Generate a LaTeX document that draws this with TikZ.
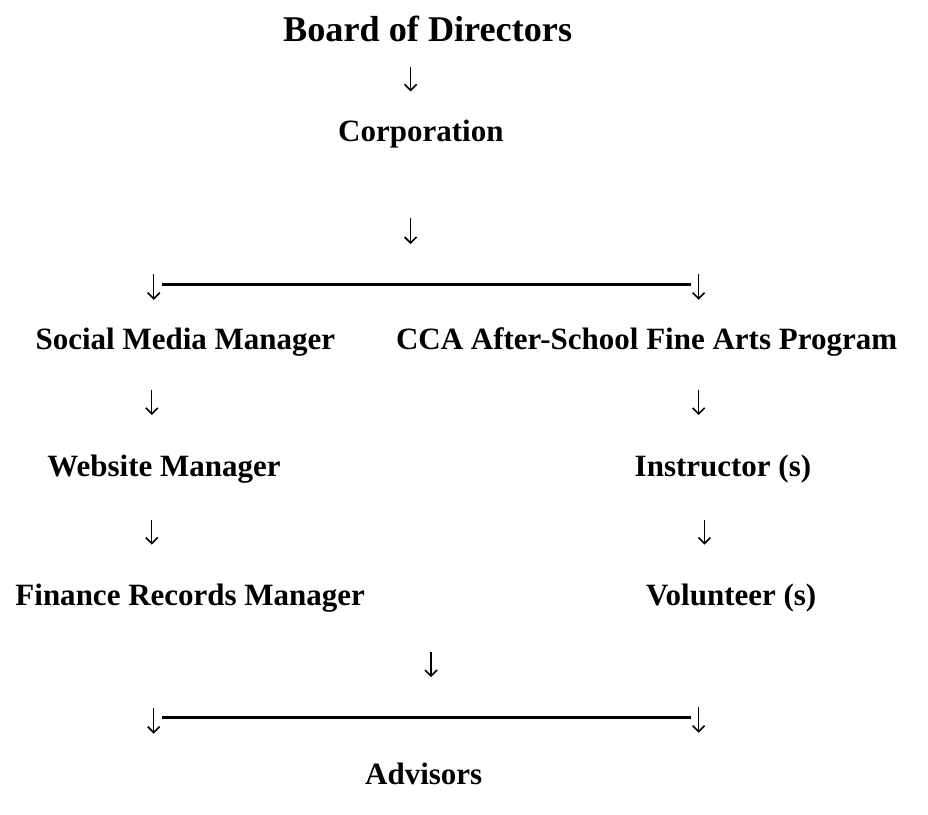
\documentclass[tikz,border=0pt]{standalone}
\usepackage{fontspec}
\setmainfont{Liberation Serif}
\usetikzlibrary{arrows.meta}
\tikzset{
  lbl/.style={font=\bfseries\fontsize{31}{37}\selectfont, inner sep=0pt, anchor=base},
  ttl/.style={font=\bfseries\fontsize{36.2}{43}\selectfont, inner sep=0pt, anchor=base},
  arr/.style={line width=1.3pt, -{Straight Barb[length=6pt,width=12pt,line width=1.6pt]}},
  hline/.style={line width=2.9pt}
}
\begin{document}
\begin{tikzpicture}[x=0.973pt,y=-0.96pt]
\useasboundingbox (0pt,0pt) rectangle (928pt,-814pt);
\begin{scope}[yshift=-7pt]
% texts
\node[ttl] (board) at (439.5,36) {Board of Directors};
\node[lbl] (corp) at (432.5,140) {Corporation};
\node[lbl] (smm) at (190.5,357) {Social Media Manager};
\node[lbl] (cca) at (664.5,357) {CCA After-School Fine Arts Program};
\node[lbl] (web) at (168.5,489) {Website Manager};
\node[lbl] (instr) at (743,489) {Instructor (s)};
\node[lbl] (fin) at (195.5,623) {Finance Records Manager};
\node[lbl] (vol) at (751.5,623) {Volunteer (s)};
\node[lbl] (adv) at (435.5,810) {Advisors};
% arrow coordinates
\coordinate (a1s) at (422,62);  \coordinate (a1e) at (422,88);
\coordinate (a2s) at (422,220); \coordinate (a2e) at (422,247);
\coordinate (l1s) at (158,278); \coordinate (l1e) at (158,305);
\coordinate (r1s) at (718,278); \coordinate (r1e) at (718,305);
\coordinate (h1s) at (166,289); \coordinate (h1e) at (710,289);
\coordinate (b1s) at (156,399); \coordinate (b1e) at (156,425);
\coordinate (c1s) at (718,399); \coordinate (c1e) at (718,425);
\coordinate (b2s) at (156,534); \coordinate (b2e) at (156,560);
\coordinate (c2s) at (724,534); \coordinate (c2e) at (724,560);
\coordinate (a3s) at (443,672); \coordinate (a3e) at (443,698);
\coordinate (l2s) at (158,730); \coordinate (l2e) at (158,757);
\coordinate (r2s) at (718,729); \coordinate (r2e) at (718,756);
\coordinate (h2s) at (166,740); \coordinate (h2e) at (710,740);
% arrows
\draw[arr] (a1s) -- (a1e);
\draw[arr] (a2s) -- (a2e);
\draw[arr] (l1s) -- (l1e);
\draw[arr] (r1s) -- (r1e);
\draw[hline] (h1s) -- (h1e);
\draw[arr] (b1s) -- (b1e);
\draw[arr] (c1s) -- (c1e);
\draw[arr] (b2s) -- (b2e);
\draw[arr] (c2s) -- (c2e);
\draw[arr] (a3s) -- (a3e);
\draw[arr] (l2s) -- (l2e);
\draw[arr] (r2s) -- (r2e);
\draw[hline] (h2s) -- (h2e);
\end{scope}
\end{tikzpicture}
\end{document}
